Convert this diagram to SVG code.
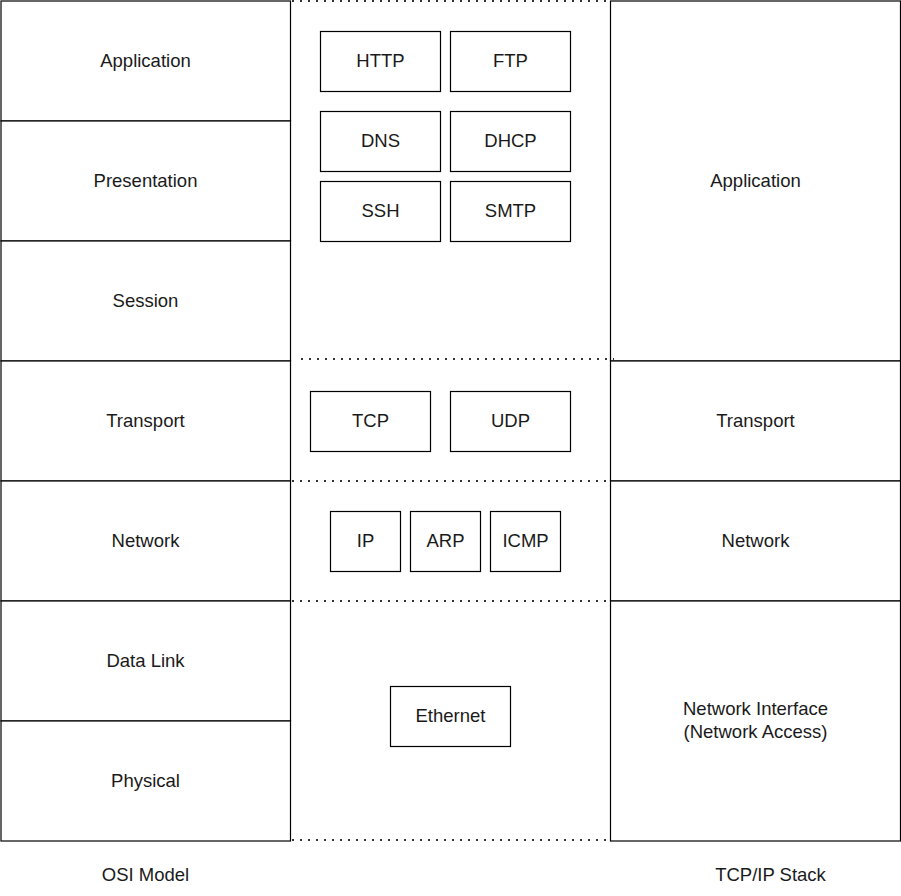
<svg xmlns="http://www.w3.org/2000/svg" width="901" height="896" viewBox="0 0 901 896">
<style>
.b{fill:#fff;stroke:#000;stroke-width:1.2}
.t{font-family:"Liberation Sans",Arial,sans-serif;font-size:18.5px;fill:#1a1a1a;text-anchor:middle}
.d{stroke:#000;stroke-width:2;stroke-dasharray:2 6;fill:none;opacity:0.8}
</style>
<rect x="0" y="0" width="901" height="896" fill="#fff"/>
<g id="osi">
<g id="osi-application"><rect class="b" x="1" y="1" width="289.5" height="120"/><text class="t" x="145.5" y="66.5">Application</text></g>
<g id="osi-presentation"><rect class="b" x="1" y="121" width="289.5" height="120"/><text class="t" x="145.5" y="186.5">Presentation</text></g>
<g id="osi-session"><rect class="b" x="1" y="241" width="289.5" height="120"/><text class="t" x="145.5" y="306.5">Session</text></g>
<g id="osi-transport"><rect class="b" x="1" y="361" width="289.5" height="120"/><text class="t" x="145.5" y="426.5">Transport</text></g>
<g id="osi-network"><rect class="b" x="1" y="481" width="289.5" height="120"/><text class="t" x="145.5" y="546.5">Network</text></g>
<g id="osi-datalink"><rect class="b" x="1" y="601" width="289.5" height="120"/><text class="t" x="145.5" y="666.5">Data Link</text></g>
<g id="osi-physical"><rect class="b" x="1" y="721" width="289.5" height="120"/><text class="t" x="145.5" y="786.5">Physical</text></g>
<g id="osi-label"><text class="t" x="145.5" y="881">OSI Model</text></g>
</g>
<g id="tcpip">
<g id="tcp-application"><rect class="b" x="610.5" y="1" width="290" height="360"/><text class="t" x="755.5" y="186.5">Application</text></g>
<g id="tcp-transport"><rect class="b" x="610.5" y="361" width="290" height="120"/><text class="t" x="755.5" y="426.5">Transport</text></g>
<g id="tcp-network"><rect class="b" x="610.5" y="481" width="290" height="120"/><text class="t" x="755.5" y="546.5">Network</text></g>
<g id="tcp-netif"><rect class="b" x="610.5" y="601" width="290" height="240"/><text class="t" x="755.5" y="715">Network Interface</text><text class="t" x="755.5" y="738">(Network Access)</text></g>
<g id="tcp-label"><text class="t" x="770.5" y="881">TCP/IP Stack</text></g>
</g>
<g id="connectors">
<line class="d" x1="292" y1="1" x2="608" y2="1"/>
<line class="d" x1="301" y1="359" x2="614" y2="359"/>
<line class="d" x1="292" y1="481" x2="608" y2="481"/>
<line class="d" x1="292" y1="601" x2="608" y2="601"/>
<line class="d" x1="292" y1="840" x2="606" y2="840"/>
</g>
<g id="protocols">
<g id="p-http"><rect class="b" x="320.5" y="31.5" width="120" height="60"/><text class="t" x="380.5" y="66.5">HTTP</text></g>
<g id="p-ftp"><rect class="b" x="450.5" y="31.5" width="120" height="60"/><text class="t" x="510.5" y="66.5">FTP</text></g>
<g id="p-dns"><rect class="b" x="320.5" y="111.5" width="120" height="60"/><text class="t" x="380.5" y="146.5">DNS</text></g>
<g id="p-dhcp"><rect class="b" x="450.5" y="111.5" width="120" height="60"/><text class="t" x="510.5" y="146.5">DHCP</text></g>
<g id="p-ssh"><rect class="b" x="320.5" y="181.5" width="120" height="60"/><text class="t" x="380.5" y="216.5">SSH</text></g>
<g id="p-smtp"><rect class="b" x="450.5" y="181.5" width="120" height="60"/><text class="t" x="510.5" y="216.5">SMTP</text></g>
<g id="p-tcp"><rect class="b" x="310.5" y="391.5" width="120" height="60"/><text class="t" x="370.5" y="426.5">TCP</text></g>
<g id="p-udp"><rect class="b" x="450.5" y="391.5" width="120" height="60"/><text class="t" x="510.5" y="426.5">UDP</text></g>
<g id="p-ip"><rect class="b" x="330.5" y="511.5" width="70" height="60"/><text class="t" x="365.5" y="546.5">IP</text></g>
<g id="p-arp"><rect class="b" x="410.5" y="511.5" width="70" height="60"/><text class="t" x="445.5" y="546.5">ARP</text></g>
<g id="p-icmp"><rect class="b" x="490.5" y="511.5" width="70" height="60"/><text class="t" x="525.5" y="546.5">ICMP</text></g>
<g id="p-ethernet"><rect class="b" x="390.5" y="686.5" width="120" height="60"/><text class="t" x="450.5" y="721.5">Ethernet</text></g>
</g>
</svg>
